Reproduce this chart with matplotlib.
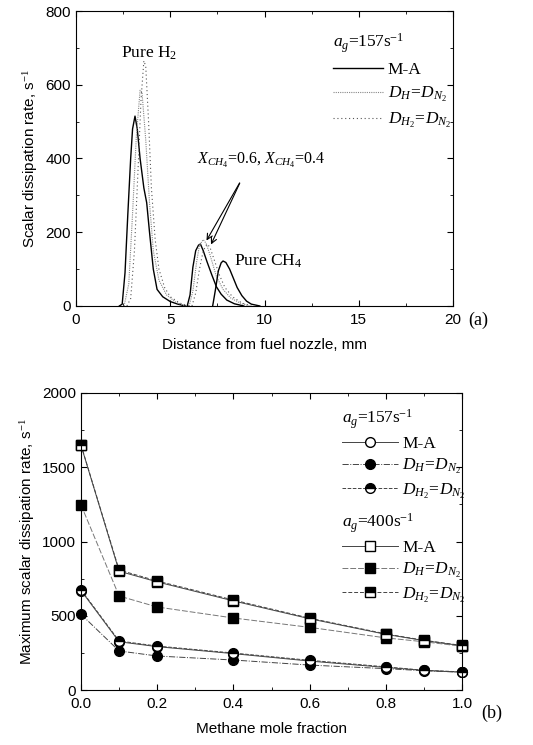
import numpy as np
import matplotlib
matplotlib.use("Agg")
import matplotlib.pyplot as plt
from matplotlib.ticker import MultipleLocator

plt.rcParams['font.family'] = ['Liberation Sans', 'DejaVu Sans']
plt.rcParams['mathtext.fontset'] = 'custom'
plt.rcParams['mathtext.rm'] = 'Liberation Serif'
plt.rcParams['mathtext.it'] = 'Liberation Serif:italic'

# ---- panel (a): scalar dissipation rate profiles ----
h2_ma_x = [2.3, 2.45, 2.6, 2.75, 2.9, 3.0, 3.13, 3.25, 3.4, 3.6, 3.75, 3.9, 4.1, 4.3, 4.6, 5.0, 5.4, 5.8]
h2_ma_y = [0, 5, 90, 250, 400, 480, 515, 480, 400, 320, 280, 200, 100, 45, 25, 12, 5, 0]
h2_dh_x = [2.55, 2.8, 3.0, 3.2, 3.4, 3.5, 3.7, 3.9, 4.1, 4.4, 4.8, 5.3, 5.8]
h2_dh_y = [0, 60, 250, 460, 585, 580, 450, 280, 150, 70, 30, 10, 0]
h2_dh2_x = [2.7, 2.9, 3.1, 3.3, 3.45, 3.6, 3.7, 3.85, 4.0, 4.2, 4.4, 4.7, 5.0, 5.5, 6.0]
h2_dh2_y = [0, 20, 150, 380, 560, 665, 650, 500, 320, 180, 100, 50, 25, 8, 0]

mix_ma_x = [5.9, 6.05, 6.2, 6.35, 6.5, 6.6, 6.75, 6.95, 7.2, 7.45, 7.7, 8.0, 8.4, 8.9]
mix_ma_y = [0, 30, 105, 150, 165, 168, 150, 120, 85, 52, 32, 16, 6, 0]
mix_dh_x = [6.0, 6.2, 6.4, 6.55, 6.75, 6.9, 7.1, 7.45, 7.8, 8.2, 8.7, 9.2]
mix_dh_y = [0, 40, 120, 165, 180, 170, 140, 80, 45, 22, 8, 0]
mix_dh2_x = [6.15, 6.35, 6.55, 6.75, 6.95, 7.1, 7.3, 7.6, 7.9, 8.3, 8.8, 9.3]
mix_dh2_y = [0, 35, 100, 150, 168, 160, 130, 85, 50, 25, 8, 0]
ch4_ma_x = [7.25, 7.4, 7.55, 7.7, 7.8, 7.95, 8.15, 8.35, 8.55, 8.8, 9.05, 9.3, 9.75]
ch4_ma_y = [0, 45, 95, 117, 122, 118, 100, 75, 50, 28, 13, 5, 0]

# ---- panel (b): maximum scalar dissipation rate ----
xch4 = [0.0, 0.1, 0.2, 0.4, 0.6, 0.8, 0.9, 1.0]
c157_ma = [670, 325, 292, 245, 195, 152, 132, 120]
c157_dh = [510, 263, 229, 202, 168, 144, 130, 120]
c157_dh2 = [675, 330, 296, 249, 200, 156, 133, 122]
c400_ma = [1648, 800, 728, 600, 480, 375, 333, 298]
c400_dh = [1246, 633, 559, 485, 422, 351, 325, 295]
c400_dh2 = [1650, 808, 734, 606, 484, 378, 335, 300]

fig = plt.figure(figsize=(5.33, 7.45), dpi=100)
ax1 = fig.add_axes([0.1426, 0.5893, 0.7073, 0.3959])
ax2 = fig.add_axes([0.152, 0.0738, 0.7148, 0.3987])

for ax in (ax1, ax2):
    ax.tick_params(which='both', direction='in', top=True, right=True, labelsize=11)
    ax.tick_params(which='major', length=4)
    ax.tick_params(which='minor', length=2)
    ax.tick_params(axis='x', pad=5)

serif = 'Liberation Serif'
fs = 12.5

# panel (a)
ax1.plot(h2_ma_x, h2_ma_y, color='black', lw=1.0, label='M-A')
ax1.plot(h2_dh_x, h2_dh_y, color='#888888', lw=0.8, ls=(0, (1, 1)), label='$D_H\\!=\\!D_{N_2}$')
ax1.plot(h2_dh2_x, h2_dh2_y, color='#555555', lw=0.8, ls=(0, (1, 2.5)), label='$D_{H_2}\\!=\\!D_{N_2}$')
ax1.plot(mix_ma_x, mix_ma_y, color='black', lw=1.0)
ax1.plot(mix_dh_x, mix_dh_y, color='#888888', lw=0.8, ls=(0, (1, 1)))
ax1.plot(mix_dh2_x, mix_dh2_y, color='#555555', lw=0.8, ls=(0, (1, 2.5)))
ax1.plot(ch4_ma_x, ch4_ma_y, color='black', lw=1.0)

ax1.set_xlim(0, 20)
ax1.set_ylim(0, 800)
ax1.xaxis.set_major_locator(MultipleLocator(5))
ax1.xaxis.set_minor_locator(MultipleLocator(2.5))
ax1.yaxis.set_major_locator(MultipleLocator(200))
ax1.yaxis.set_minor_locator(MultipleLocator(100))
ax1.set_xlabel('Distance from fuel nozzle, mm', fontsize=11, labelpad=8)
ax1.set_ylabel('Scalar dissipation rate, s$^{-1}$', fontsize=11)

ax1.text(3.9, 662, 'Pure H$_2$', family=serif, fontsize=fs, ha='center', va='bottom')
ax1.text(8.4, 122, 'Pure CH$_4$', family=serif, fontsize=fs, ha='left', va='center')
ax1.text(6.4, 396, '$X_{CH_4}$=0.6, $X_{CH_4}$=0.4', family=serif, fontsize=11.5,
         ha='left', va='center')
for tip in [(6.85, 171), (7.1, 160)]:
    ax1.annotate('', xy=tip, xytext=(8.75, 340),
                 arrowprops=dict(arrowstyle='->', lw=0.8, color='black'))

leg1 = ax1.legend(loc='upper left', bbox_to_anchor=(0.64, 0.985), frameon=False,
                  title='$a_g$=157s$^{-1}$', alignment='left', handlelength=2.9,
                  handletextpad=0.25, labelspacing=0.4,
                  prop={'family': serif, 'size': fs})
leg1.get_title().set_fontfamily(serif)
leg1.get_title().set_fontsize(fs)
ax1.text(1.04, -0.05, '(a)', transform=ax1.transAxes, family=serif, fontsize=13,
         ha='left', va='center')

# panel (b)
lc = '#444444'
ms = 7
h1, = ax2.plot(xch4, c157_ma, color=lc, lw=0.7, marker='o', ms=ms, mfc='white',
               mec='black', label='M-A')
h2, = ax2.plot(xch4, c157_dh, color=lc, lw=0.7, ls='-.', marker='o', ms=ms, mfc='black',
               mec='black', label='$D_H\\!=\\!D_{N_2}$')
h3, = ax2.plot(xch4, c157_dh2, color=lc, lw=0.7, ls='--', marker='o', ms=ms, mfc='black',
               mfcalt='white', fillstyle='top', mec='black', label='$D_{H_2}\\!=\\!D_{N_2}$')
h4, = ax2.plot(xch4, c400_ma, color=lc, lw=0.7, marker='s', ms=ms, mfc='white',
               mec='black', label='M-A')
h5, = ax2.plot(xch4, c400_dh, color='#777777', lw=0.7, ls=(0, (6, 2)), marker='s', ms=ms,
               mfc='black', mec='black', label='$D_H\\!=\\!D_{N_2}$')
h6, = ax2.plot(xch4, c400_dh2, color=lc, lw=0.7, ls=(0, (4, 2)), marker='s', ms=ms,
               mfc='black', mfcalt='white', fillstyle='top', mec='black',
               label='$D_{H_2}\\!=\\!D_{N_2}$')
for h in (h1, h2, h3, h4, h5, h6):
    h.set_clip_on(False)

ax2.set_xlim(0, 1.0)
ax2.set_ylim(0, 2000)
ax2.xaxis.set_major_locator(MultipleLocator(0.2))
ax2.xaxis.set_minor_locator(MultipleLocator(0.1))
ax2.yaxis.set_major_locator(MultipleLocator(500))
ax2.yaxis.set_minor_locator(MultipleLocator(250))
ax2.set_xlabel('Methane mole fraction', fontsize=11, labelpad=8)
ax2.set_ylabel('Maximum scalar dissipation rate, s$^{-1}$', fontsize=11)

common = dict(frameon=False, alignment='left', handlelength=3.2, handletextpad=0.25,
              labelspacing=0.3, prop={'family': serif, 'size': fs})
leg_a = ax2.legend(handles=[h1, h2, h3], loc='upper left', bbox_to_anchor=(0.645, 1.005),
                   title='$a_g$=157s$^{-1}$', **common)
leg_b = ax2.legend(handles=[h4, h5, h6], loc='upper left', bbox_to_anchor=(0.645, 0.655),
                   title='$a_g$=400s$^{-1}$', **common)
for lg in (leg_a, leg_b):
    lg.get_title().set_fontfamily(serif)
    lg.get_title().set_fontsize(fs)
ax2.add_artist(leg_a)
ax2.text(1.05, -0.08, '(b)', transform=ax2.transAxes, family=serif, fontsize=13,
         ha='left', va='center')

fig.savefig('out.png', dpi=100)
